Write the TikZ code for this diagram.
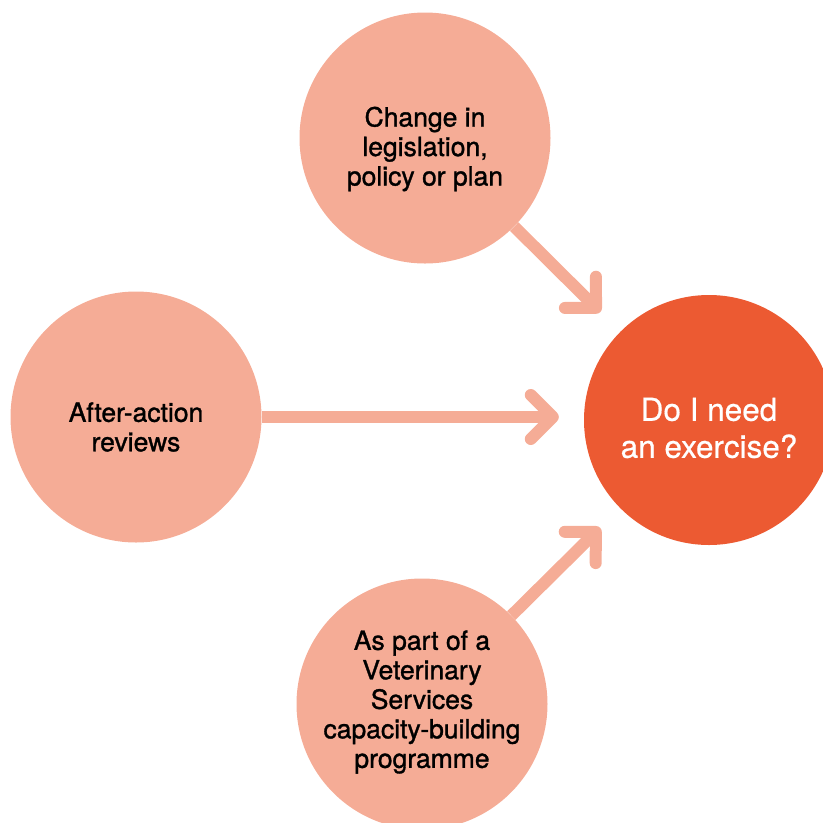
\documentclass[tikz,border=0pt]{standalone}
\usepackage{fontspec}
\setmainfont{TeX Gyre Heros}
\newfontfamily\bubblefont[FakeBold=1.2]{TeX Gyre Heros}
\newfontfamily\goalfont[FakeBold=0.5]{TeX Gyre Heros}
\usetikzlibrary{arrows.meta}
\definecolor{salmon}{HTML}{F5AC96}
\definecolor{flame}{HTML}{EC5A32}
\tikzset{
  bubble/.style={circle, fill=salmon, minimum size=251pt, inner sep=0pt},
  goal/.style={circle, fill=flame, minimum size=250pt, inner sep=0pt},
  bubbletext/.style={align=center, font=\bubblefont\fontsize{26.5}{29.5}\selectfont},
  goaltext/.style={align=center, text=white, font=\goalfont\fontsize{31.5}{37}\selectfont},
  push/.style={draw=salmon, line width=12pt, -{Straight Barb[length=22pt, width=44pt, round]}},
}
\begin{document}
\begin{tikzpicture}[x=1pt, y=-1pt]
	\clip (0,0) rectangle (823,823);
	% circles
	\node[bubble] (change) at (425,138) {};
	\node[bubble] (after) at (136,417) {};
	\node[bubble] (part) at (422,704) {};
	\node[goal] (need) at (709,420) {};
	% texts
	\node[bubbletext] (changetext) at ([yshift=-11pt]change.center) {Change in\\legislation,\\policy or plan};
	\node[bubbletext] (aftertext) at ([yshift=-10pt]after.center) {After-action\\reviews};
	\node[bubbletext] (parttext) at ([yshift=2pt]part.center) {As part of a\\Veterinary\\Services\\capacity-building\\programme};
	\node[goaltext] (needtext) at ([yshift=-8pt]need.center) {Do I need\\an exercise?};
	% arrows
	\draw[push, shorten >=28pt] (change) -- (need);
	\draw[push, shorten >=25pt] (after.east) -- (after.east -| need.west);
	\draw[push, shorten >=28pt] (part) -- (need);
\end{tikzpicture}
\end{document}
